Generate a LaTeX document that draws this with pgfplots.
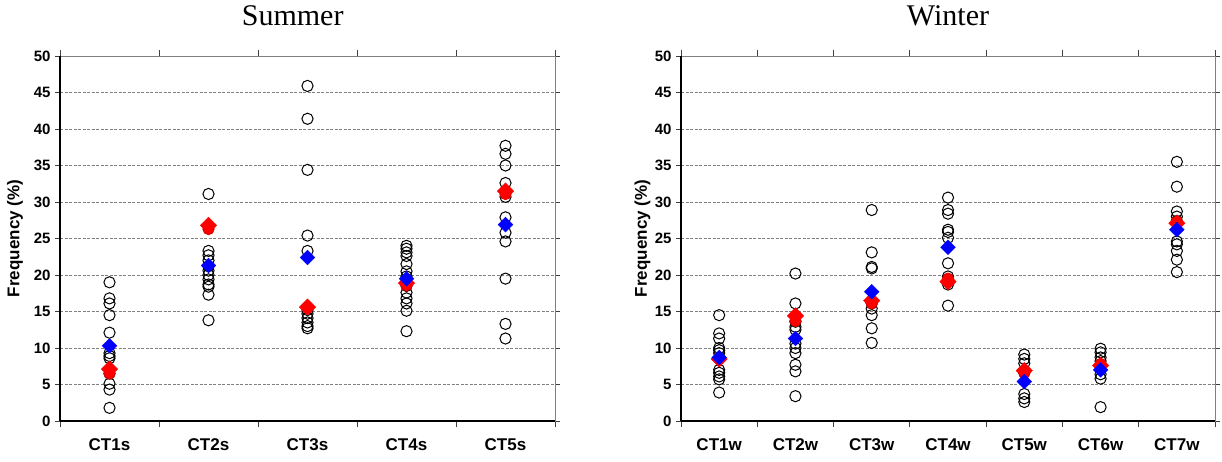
\documentclass[border=0pt]{standalone}
\usepackage{fontspec}
\setmainfont{Liberation Sans}
\newfontfamily\titlefont{Liberation Serif}
\usepackage{pgfplots}
\usepackage{pgfplotstable}
\pgfplotsset{compat=1.18}

% summer: open circles, red and blue diamonds
\pgfplotstableread{
x y
1 19.0
1 16.8
1 16.1
1 14.5
1 12.1
1 9.3
1 8.9
1 8.6
1 6.5
1 5.1
1 4.3
1 1.8
2 31.1
2 23.3
2 22.7
2 22.0
2 21.2
2 20.6
2 20.0
2 19.4
2 18.7
2 18.4
2 17.3
2 13.8
3 45.9
3 41.4
3 34.4
3 25.4
3 23.3
3 15.2
3 14.7
3 14.1
3 13.5
3 13.0
3 12.7
4 24.0
4 23.6
4 23.1
4 22.6
4 21.5
4 20.5
4 19.8
4 18.5
4 17.6
4 16.8
4 16.1
4 15.1
4 12.3
5 37.7
5 36.6
5 35.0
5 32.6
5 30.7
5 27.9
5 25.8
5 24.6
5 19.5
5 13.3
5 11.3
}\summerpts
\pgfplotstableread{
x y
1 6.5
2 26.3
3 15.5
4 18.6
5 31.1
}\summerredpts
\pgfplotstableread{
x y
1 7.1
2 26.8
3 15.6
4 18.9
5 31.5
}\summerred
\pgfplotstableread{
x y
1 10.3
2 21.3
3 22.4
4 19.5
5 26.9
}\summerblue

% winter
\pgfplotstableread{
x y
1 14.5
1 12.0
1 11.3
1 10.0
1 9.7
1 9.3
1 7.0
1 6.6
1 6.1
1 5.7
1 3.9
2 20.2
2 16.1
2 13.6
2 12.9
2 12.5
2 10.6
2 10.0
2 9.3
2 7.7
2 6.8
2 3.4
3 28.9
3 23.1
3 21.1
3 20.9
3 16.1
3 15.4
3 14.5
3 12.7
3 10.7
4 30.6
4 28.9
4 28.4
4 26.2
4 25.9
4 25.1
4 21.6
4 19.8
4 19.4
4 18.7
4 15.8
5 9.1
5 8.5
5 7.9
5 6.6
5 3.7
5 3.1
5 2.6
6 9.9
6 9.4
6 8.7
6 8.2
6 6.4
6 5.8
6 1.9
7 35.5
7 32.1
7 28.7
7 28.0
7 27.4
7 24.6
7 24.2
7 23.3
7 22.1
7 20.4
}\winterpts
\pgfplotstableread{
x y
2 13.7
3 16.1
4 19.5
5 6.6
6 7.8
7 27.3
}\winterredpts
\pgfplotstableread{
x y
1 8.5
2 14.4
3 16.5
4 19.1
5 6.9
6 7.6
7 27.1
}\winterred
\pgfplotstableread{
x y
1 8.7
2 11.3
3 17.7
4 23.8
5 5.4
6 7.0
7 26.2
}\winterblue

\pgfplotsset{
  freq/.style={
    scale only axis, height=365pt, anchor=south west,
    ymin=0, ymax=50, ytick={0,5,...,50},
    clip=false,
    axis line style={draw=gray, line width=0.9pt},
    ymajorgrids,
    major grid style={gray, line width=0.8pt, dash pattern=on 3pt off 1.5pt},
    tick align=outside,
    major tick length=5pt,
    minor tick length=6pt,
    xtick style={draw=none},
    ytick style={draw=darkgray, line width=0.9pt},
    minor x tick style={draw=darkgray, line width=0.9pt},
    /pgf/number format/assume math mode=true,
    yticklabel style={font=\fontsize{15}{15}\selectfont\bfseries, xshift=-1pt},
    xticklabel style={font=\fontsize{17}{17}\selectfont\bfseries, yshift=-9pt},
    ylabel={Frequency (\%)},
    ylabel style={font=\fontsize{17}{17}\selectfont\bfseries, anchor=center},
    title style={font=\titlefont\fontsize{30}{30}\selectfont, anchor=base, yshift=24pt},
  },
  circ/.style={only marks, mark=o, mark size=5.6pt, mark options={draw=black, line width=1pt}},
  redc/.style={only marks, mark=*, mark size=5.6pt, mark options={draw=red!85!black, fill=red, line width=1pt}},
  redd/.style={only marks, mark=square*, mark size=5.8pt, mark options={rotate=45, fill=red, draw=red}},
  blued/.style={only marks, mark=square*, mark size=5.2pt, mark options={rotate=45, fill=blue, draw=blue}},
}

\begin{document}
\begin{tikzpicture}
\path[use as bounding box] (0,0) rectangle (1222pt,462pt);

\begin{axis}[freq, at={(60pt,41pt)}, width=495pt,
  xmin=0.5, xmax=5.5, xtick={1,...,5},
  xticklabels={CT1s,CT2s,CT3s,CT4s,CT5s},
  minor xtick={0.5,1.5,...,5.5},
  ylabel style={at={(axis description cs:-0.0909,0.5)}},
  title={Summer}, title style={at={(axis description cs:0.47,1)}}]
\addplot[circ] table {\summerpts};
\addplot[redc] table {\summerredpts};
\addplot[redd] table {\summerred};
\addplot[blued] table {\summerblue};
\draw[black, line width=2pt] (rel axis cs:0,0) -- (rel axis cs:0,1);
\draw[black, line width=2.4pt] (rel axis cs:0,0) -- (rel axis cs:1,0);
\end{axis}

\begin{axis}[freq, at={(681pt,41pt)}, width=534pt,
  xmin=0.5, xmax=7.5, xtick={1,...,7},
  xticklabels={CT1w,CT2w,CT3w,CT4w,CT5w,CT6w,CT7w},
  minor xtick={0.5,1.5,...,7.5},
  ylabel style={at={(axis description cs:-0.072,0.5)}},
  title={Winter}, title style={at={(axis description cs:0.5,1)}}]
\addplot[circ] table {\winterpts};
\addplot[redc] table {\winterredpts};
\addplot[redd] table {\winterred};
\addplot[blued] table {\winterblue};
\draw[black, line width=2pt] (rel axis cs:0,0) -- (rel axis cs:0,1);
\draw[black, line width=2.4pt] (rel axis cs:0,0) -- (rel axis cs:1,0);
\end{axis}
\end{tikzpicture}
\end{document}
